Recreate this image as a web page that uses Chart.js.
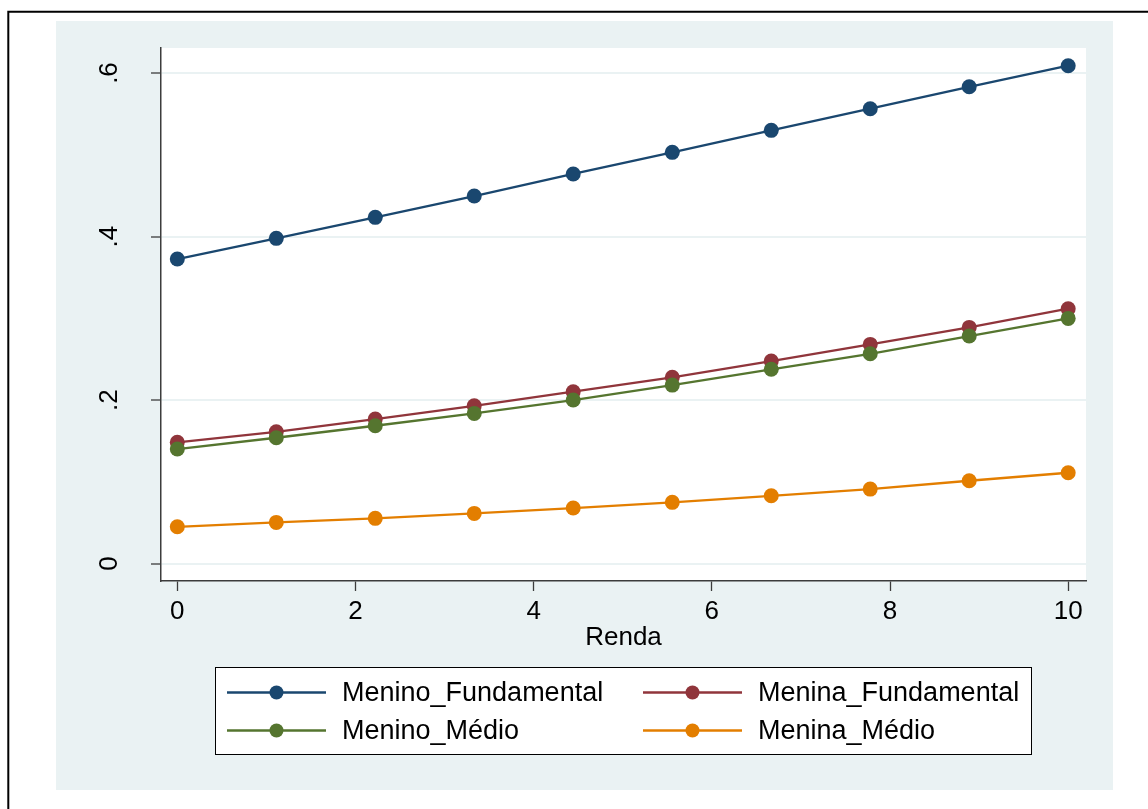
<!DOCTYPE html>
<html>
<head>
<meta charset="utf-8">
<script src="https://cdn.jsdelivr.net/npm/chart.js@4/dist/chart.umd.min.js"></script>
<style>
  body { margin: 0; background: #fff; }
</style>
</head>
<body>
<canvas id="myChart" width="1148" height="809"></canvas>
<script>
// data
var renda = [0, 1.111, 2.222, 3.333, 4.444, 5.556, 6.667, 7.778, 8.889, 10];
var meninoFundamental = [0.3725, 0.3978, 0.4235, 0.4495, 0.4765, 0.5030, 0.5299, 0.5563, 0.5832, 0.6089];
var meninaFundamental = [0.1483, 0.1612, 0.1768, 0.1930, 0.2102, 0.2278, 0.2477, 0.2681, 0.2889, 0.3117];
var meninoMedio = [0.1401, 0.1539, 0.1686, 0.1837, 0.2000, 0.2183, 0.2376, 0.2566, 0.2783, 0.2999];
var meninaMedio = [0.0450, 0.0504, 0.0553, 0.0614, 0.0679, 0.0749, 0.0829, 0.0911, 0.1013, 0.1111];

var seriesNames = ['Menino_Fundamental', 'Menina_Fundamental', 'Menino_Médio', 'Menina_Médio'];
var seriesColors = ['#1a476f', '#90353b', '#55752f', '#e37e00'];
var xTicks = [0, 2, 4, 6, 8, 10];
var yTicks = [0, 0.2, 0.4, 0.6];
var yLabels = ['0', '.2', '.4', '.6'];
var xTitle = 'Renda';

var FONT = '"Liberation Sans", Arial, Helvetica, sans-serif';
var BG = '#eaf2f3';
var AXIS = '#3c3c3c';

var allSeries = [meninoFundamental, meninaFundamental, meninoMedio, meninaMedio];

function toPoints(vals) {
  var pts = [];
  for (var i = 0; i < vals.length; i++) {
    pts.push({ x: renda[i], y: vals[i] });
  }
  return pts;
}

var datasets = [];
for (var s = 0; s < allSeries.length; s++) {
  datasets.push({
    label: seriesNames[s],
    data: toPoints(allSeries[s]),
    borderColor: seriesColors[s],
    backgroundColor: seriesColors[s],
    borderWidth: 2.3,
    pointRadius: 7.5,
    pointBorderWidth: 0,
    pointHoverRadius: 7.5,
    fill: false,
    tension: 0,
    order: allSeries.length - s   // later series drawn on top, like Stata
  });
}

// background boxes, the outer frame, rotated y labels and the legend
var stataFrame = {
  id: 'stataFrame',
  beforeDraw: function(chart) {
    var ctx = chart.ctx;
    var a = chart.chartArea;
    ctx.save();
    ctx.fillStyle = '#fff';
    ctx.fillRect(0, 0, chart.width, chart.height);
    ctx.fillStyle = BG;
    ctx.fillRect(56, 21, 1057, 769);
    ctx.fillStyle = '#fff';
    ctx.fillRect(a.left, a.top, a.right - a.left, a.bottom - a.top);
    ctx.strokeStyle = '#000';
    ctx.lineWidth = 2;
    ctx.beginPath();
    ctx.moveTo(8.3, chart.height);
    ctx.lineTo(8.3, 11.8);
    ctx.lineTo(chart.width, 11.8);
    ctx.stroke();
    ctx.restore();
  },
  afterDraw: function(chart) {
    var ctx = chart.ctx;
    var yScale = chart.scales.y;
    ctx.save();
    ctx.fillStyle = '#000';
    ctx.font = '26px ' + FONT;
    ctx.textAlign = 'center';
    ctx.textBaseline = 'alphabetic';
    for (var i = 0; i < yTicks.length; i++) {
      var py = yScale.getPixelForValue(yTicks[i]);
      ctx.save();
      ctx.translate(117, py);
      ctx.rotate(-Math.PI / 2);
      ctx.fillText(yLabels[i], 0, 0);
      ctx.restore();
    }

    // legend box
    var bx = 215, by = 667, bw = 816, bh = 87;
    ctx.fillStyle = '#fff';
    ctx.fillRect(bx, by, bw, bh);
    ctx.strokeStyle = '#000';
    ctx.lineWidth = 1;
    ctx.strokeRect(bx + 0.5, by + 0.5, bw, bh);

    var cols = [227, 643];
    var rows = [692.5, 730.5];
    ctx.textAlign = 'left';
    ctx.textBaseline = 'middle';
    for (var k = 0; k < seriesNames.length; k++) {
      var lx = cols[k % 2];
      var ly = rows[Math.floor(k / 2)];
      ctx.strokeStyle = seriesColors[k];
      ctx.lineWidth = 2.3;
      ctx.beginPath();
      ctx.moveTo(lx, ly);
      ctx.lineTo(lx + 99, ly);
      ctx.stroke();
      ctx.fillStyle = seriesColors[k];
      ctx.beginPath();
      ctx.arc(lx + 49.5, ly, 7, 0, Math.PI * 2);
      ctx.fill();
      ctx.fillStyle = '#000';
      ctx.font = '27px ' + FONT;
      ctx.fillText(seriesNames[k], lx + 115, ly + 1);
    }
    ctx.restore();
  }
};

var ctx = document.getElementById('myChart').getContext('2d');
var chart = new Chart(ctx, {
  type: 'line',
  data: { datasets: datasets },
  plugins: [stataFrame],
  options: {
    responsive: false,
    animation: false,
    devicePixelRatio: 1,
    layout: { padding: { left: 56, right: 62, top: 48, bottom: 156 } },
    plugins: {
      legend: { display: false },
      tooltip: { enabled: false }
    },
    scales: {
      x: {
        type: 'linear',
        min: -0.183,
        max: 10.2,
        afterBuildTicks: function(scale) {
          scale.ticks = xTicks.map(function(v) { return { value: v }; });
        },
        afterFit: function(scale) { scale.height = 72; },
        grid: {
          drawOnChartArea: false,
          drawTicks: true,
          tickLength: 10,
          tickColor: AXIS,
          tickWidth: 1.3
        },
        border: { display: true, color: AXIS, width: 1.5 },
        ticks: {
          padding: 5,
          color: '#000',
          font: { family: FONT, size: 26 },
          maxRotation: 0,
          callback: function(v) { return String(v); }
        },
        title: {
          display: true,
          text: xTitle,
          color: '#000',
          padding: 0,
          font: { family: FONT, size: 26 }
        }
      },
      y: {
        type: 'linear',
        min: -0.0213,
        max: 0.6306,
        afterBuildTicks: function(scale) {
          scale.ticks = yTicks.map(function(v) { return { value: v }; });
        },
        afterFit: function(scale) { scale.width = 105; },
        grid: {
          color: BG,
          lineWidth: 2,
          drawTicks: true,
          tickLength: 10,
          tickColor: AXIS,
          tickWidth: 1.3
        },
        border: { display: true, color: AXIS, width: 1.5 },
        ticks: { display: false }
      }
    }
  }
});
</script>
</body>
</html>
